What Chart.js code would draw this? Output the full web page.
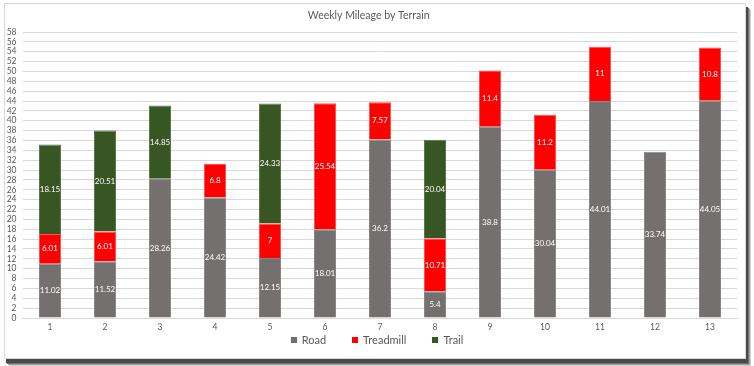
<!DOCTYPE html>
<html>
<head>
<meta charset="utf-8">
<script src="https://cdn.jsdelivr.net/npm/chart.js@4/dist/chart.umd.min.js"></script>
<style>
html,body{margin:0;padding:0;background:#fff;}
#wrap{position:absolute;left:0;top:0;width:754px;height:366px;}
#legend{position:absolute;left:0;top:333px;width:754px;text-align:center;font-family:Lato,"Open Sans",sans-serif;font-size:11px;color:#595959;line-height:14px;white-space:nowrap;}
#legend span.item{display:inline-block;margin:0 13px;}
#legend span.box{display:inline-block;width:6px;height:6px;margin-right:5px;vertical-align:1px;}
</style>
</head>
<body>
<div id="wrap"><canvas id="c" width="754" height="366"></canvas><div id="legend"></div></div>
<script>
const weeks = ['1','2','3','4','5','6','7','8','9','10','11','12','13'];
const road = [11.02, 11.52, 28.26, 24.42, 12.15, 18.01, 36.2, 5.4, 38.8, 30.04, 44.01, 33.74, 44.05];
const treadmill = [6.01, 6.01, null, 6.8, 7, 25.54, 7.57, 10.71, 11.4, 11.2, 11, null, 10.8];
const trail = [18.15, 20.51, 14.85, null, 24.33, null, null, 20.04, null, null, null, null, null];
const titleText = 'Weekly Mileage by Terrain';

const FONT = 'Lato, "Open Sans", sans-serif';

const framePlugin = {
  id: 'frame',
  beforeDraw(chart) {
    const ctx = chart.ctx;
    ctx.save();
    ctx.fillStyle = '#fff';
    ctx.fillRect(0, 0, chart.width, chart.height);
    const x = 4, y = 3, w = 742, h = 356;
    const shades = ['#4a4a4a', '#707070', '#a0a0a0', '#d0d0d0'];
    for (let i = 3; i >= 0; i--) {
      ctx.fillStyle = shades[i];
      ctx.fillRect(x + 2 + i, y + 4 + i, w, h);
    }
    ctx.fillStyle = '#fff';
    ctx.fillRect(x, y, w, h);
    ctx.strokeStyle = '#d9d9d9';
    ctx.lineWidth = 1;
    ctx.strokeRect(x + 0.5, y + 0.5, w - 1, h - 1);
    ctx.restore();
  }
};

const labelPlugin = {
  id: 'segLabels',
  afterDatasetsDraw(chart) {
    const ctx = chart.ctx;
    ctx.save();
    ctx.font = '8px ' + FONT;
    ctx.fillStyle = '#ffffff';
    ctx.textAlign = 'center';
    ctx.textBaseline = 'middle';
    chart.data.datasets.forEach((ds, di) => {
      const meta = chart.getDatasetMeta(di);
      meta.data.forEach((bar, i) => {
        const v = ds.data[i];
        if (v === null || v === undefined) return;
        const p = bar.getProps(['x', 'y', 'base'], true);
        ctx.fillText(String(v), p.x, (p.y + p.base) / 2);
      });
    });
    ctx.restore();
  }
};

const chart = new Chart(document.getElementById('c'), {
  type: 'bar',
  data: {
    labels: weeks,
    datasets: [
      { label: 'Road', data: road, backgroundColor: '#757070', borderColor: '#8a8686', borderWidth: 1 },
      { label: 'Treadmill', data: treadmill, backgroundColor: '#ff0000', borderColor: '#ff5050', borderWidth: 1 },
      { label: 'Trail', data: trail, backgroundColor: '#375623', borderColor: '#5a7548', borderWidth: 1 }
    ]
  },
  options: {
    responsive: false,
    animation: false,
    devicePixelRatio: 1,
    layout: { padding: { left: 0, right: 16.5, top: 6, bottom: 29.8 } },
    datasets: { bar: { barPercentage: 0.4, categoryPercentage: 1 } },
    plugins: {
      title: {
        display: true, text: titleText, color: '#595959',
        font: { family: FONT, size: 10.5, weight: 'normal' },
        padding: { top: 3, bottom: 10.4 }
      },
      legend: { display: false },
      tooltip: { enabled: false }
    },
    scales: {
      x: {
        stacked: true,
        grid: { display: false, drawTicks: false },
        border: { display: true, color: '#d9d9d9' },
        ticks: { color: '#595959', font: { family: FONT, size: 8.5 }, padding: 4 }
      },
      y: {
        stacked: true, min: 0, max: 58,
        grid: { color: '#d9d9d9', drawTicks: false },
        border: { display: false },
        ticks: { stepSize: 2, autoSkip: false, color: '#595959', font: { family: FONT, size: 8.5 }, padding: 6 },
        afterFit(scale) { scale.width = 22.5; }
      }
    }
  },
  plugins: [framePlugin, labelPlugin]
});

// HTML legend built from the datasets
const legendEl = document.getElementById('legend');
chart.data.datasets.forEach(ds => {
  const item = document.createElement('span');
  item.className = 'item';
  const box = document.createElement('span');
  box.className = 'box';
  box.style.background = ds.backgroundColor;
  item.appendChild(box);
  item.appendChild(document.createTextNode(ds.label));
  legendEl.appendChild(item);
});
</script>
</body>
</html>
